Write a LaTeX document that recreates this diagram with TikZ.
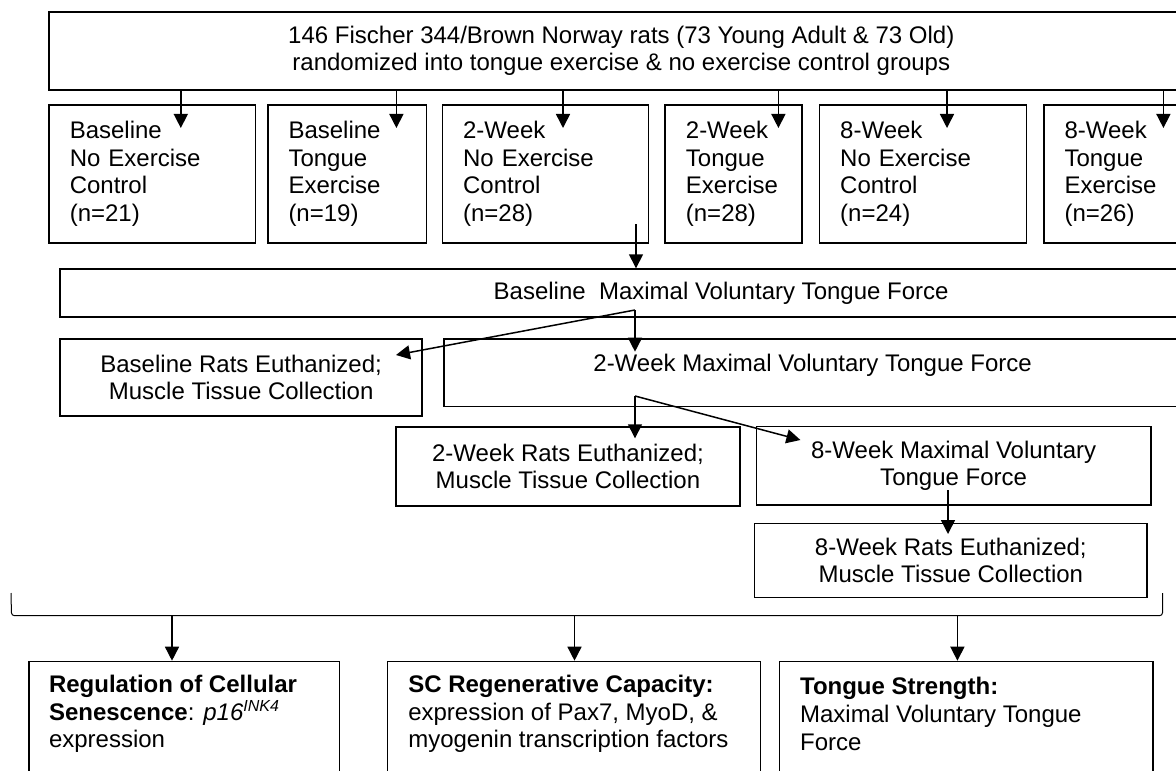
\documentclass[tikz,border=0pt]{standalone}
\usepackage{fontspec}
\setmainfont{Liberation Sans}
\usetikzlibrary{arrows.meta}
\newcommand\fsz{\fontsize{12pt}{13.8pt}\selectfont}
\begin{document}
\begin{tikzpicture}[x=0.5pt,y=-0.5pt,
  box/.style={draw, line width=0.8pt, inner sep=0pt, anchor=north west, font=\fsz},
  grp/.style={box, align=left, inner xsep=10.35pt, minimum height=69pt},
  cbox/.style={box, align=center},
  txt/.style={inner sep=0pt, align=left, font=\fsz, anchor=west},
  ln/.style={line width=0.75pt},
  arr/.style={ln, -{Triangle[length=7pt,width=7pt]}}]
\useasboundingbox (0,0) rectangle (1176,770);
\clip (0,0) rectangle (1176,770);

% top box
\node[cbox, minimum width=572.2pt, minimum height=39pt] (top) at (48.3,11)
  {146 Fischer 344/Brown Norway rats (73 Young Adult \& 73 Old)\\randomized into tongue exercise \& no exercise control groups};

% group boxes
\node[grp, text width=82.5pt]  (b1) at (48.3,104)  {Baseline\\No Exercise\\Control\\(n=21)};
\node[grp, text width=58.55pt] (b2) at (267,104)   {Baseline\\Tongue\\Exercise\\(n=19)};
\node[grp, text width=82.35pt] (b3) at (441.6,104) {2-Week\\No Exercise\\Control\\(n=28)};
\node[grp, text width=47.7pt]  (b4) at (664.4,104) {2-Week\\Tongue\\Exercise\\(n=28)};
\node[grp, text width=82.85pt] (b5) at (818.7,104) {8-Week\\No Exercise\\Control\\(n=24)};
\node[grp, text width=69.3pt]  (b6) at (1043,104)  {8-Week\\Tongue\\Exercise\\(n=26)};

% arrows from top box
\coordinate (t1) at (180.8,128);
\coordinate (t2) at (396.4,128);
\coordinate (t3) at (563,128);
\coordinate (t4) at (778.4,128);
\coordinate (t5) at (947,128);
\coordinate (t6) at (1163.4,128);
\foreach \t in {t1,t2,t3,t4,t5,t6} \draw[arr] (top.south -| \t) -- (\t);

% baseline maximal voluntary tongue force
\node[cbox, minimum width=661pt, minimum height=23.85pt] (bmv) at (59.3,268.3)
  {Baseline\ \ Maximal Voluntary Tongue Force};
\coordinate (s3) at (636,224);
\draw[arr] (s3) -- (s3 |- bmv.north);

% second row
\node[cbox, minimum width=181.05pt, minimum height=38.35pt] (brats) at (59.3,338.3)
  {Baseline Rats Euthanized;\\Muscle Tissue Collection};
\node[box, minimum width=400pt, minimum height=33.7pt] (wmv) at (443,338.3) {};
\node[inner sep=0pt, font=\fsz, anchor=base west] (wmvt) at (593,371.9)
  {2-Week Maximal Voluntary Tongue Force};

\coordinate (j1) at (635,310);
\coordinate (tb) at (396,355);
\coordinate (tw) at (635,351.7);
\draw[arr] (j1) -- (tb);
\draw[arr] (j1) -- (tw);

% third row
\node[cbox, minimum width=171.85pt, minimum height=39.5pt] (wrats) at (395.3,426)
  {2-Week Rats Euthanized;\\Muscle Tissue Collection};
\node[cbox, minimum width=197.2pt, minimum height=39.3pt] (emv) at (755.6,425.7)
  {8-Week Maximal Voluntary\\Tongue Force};
\coordinate (j2) at (635,396);
\coordinate (tw2) at (635,438.3);
\coordinate (te) at (800.4,440);
\draw[arr] (j2) -- (tw2);
\draw[arr] (j2) -- (te);

% 8-week rats
\node[cbox, minimum width=196.3pt, minimum height=37pt] (erats) at (753.7,522.7)
  {8-Week Rats Euthanized;\\Muscle Tissue Collection};
\coordinate (s8) at (948,490);
\coordinate (t8) at (948,534);
\draw[arr] (s8) -- (t8);

% bracket
\draw[line width=0.5pt, rounded corners=1.5pt] (11,593) -- (11.5,615.7) -- (1162.5,615.7) -- (1162.5,593);

% bottom boxes
\node[box, minimum width=155.3pt, minimum height=75pt] (bb1) at (28,660.7) {};
\node[box, minimum width=186.5pt, minimum height=75pt] (bb2) at (386.8,660.7) {};
\node[box, minimum width=186.6pt, minimum height=75pt] (bb3) at (778.8,660.7) {};
\node[txt] (bb1t) at (48.6,714)
  {\textbf{Regulation of Cellular}\\\textbf{Senescence}: \textit{p16}\textsuperscript{\textit{INK4}}\\expression};
\node[txt] (bb2t) at (407.9,714)
  {\textbf{SC Regenerative Capacity:}\\expression of Pax7, MyoD, \&\\myogenin transcription factors};
\node[txt] (bb3t) at (799.7,714)
  {\textbf{Tongue Strength:}\\Maximal Voluntary Tongue\\Force};

\coordinate (c1) at (172,615.7);
\coordinate (c2) at (574.5,615.7);
\coordinate (c3) at (957.4,615.7);
\draw[arr] (c1) -- (c1 |- bb1.north);
\draw[arr] (c2) -- (c2 |- bb2.north);
\draw[arr] (c3) -- (c3 |- bb3.north);
\end{tikzpicture}
\end{document}
